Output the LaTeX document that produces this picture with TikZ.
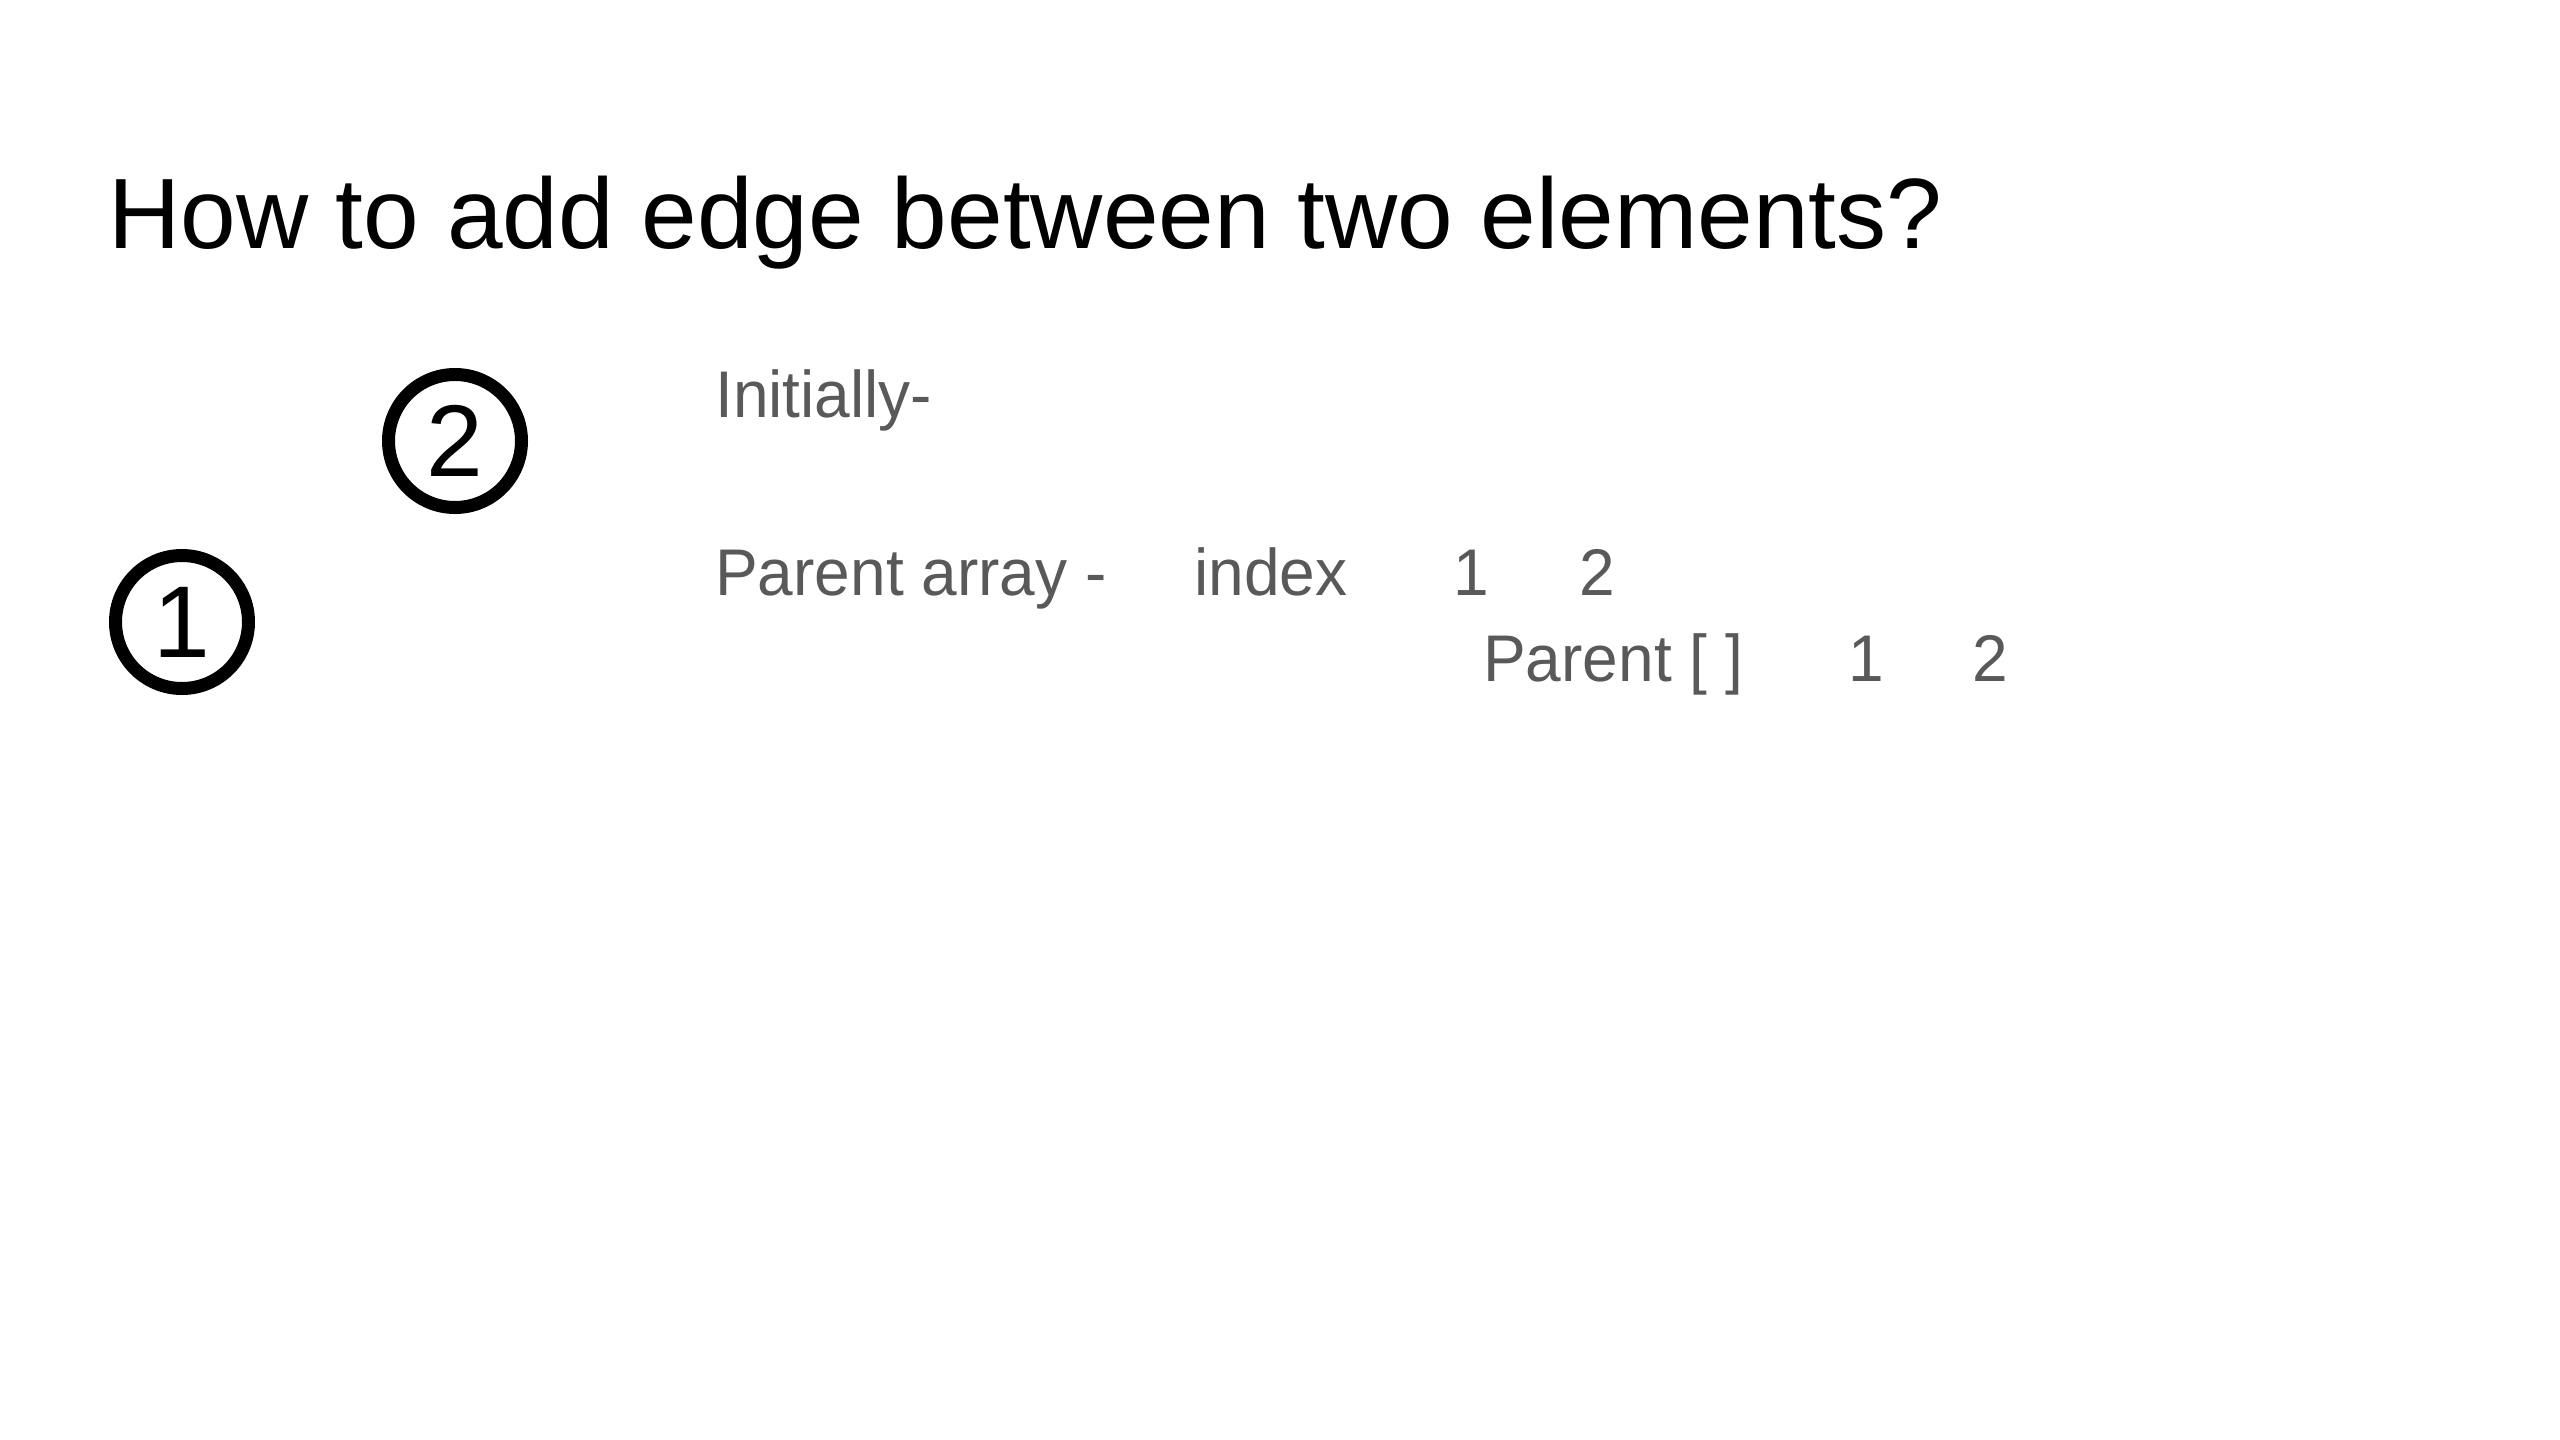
\documentclass[tikz,border=0pt]{standalone}
\usepackage{fontspec}
\setmainfont{Liberation Sans}
\newfontfamily\bodyfont[FakeStretch=0.97]{Liberation Sans}
\usepackage{xcolor}
\definecolor{slidegray}{HTML}{595959}
\tikzset{
    slide-title/.style = {anchor=base west, inner sep=0pt, text=black, font=\fontsize{100}{110}\selectfont},
    body-text/.style = {anchor=base west, inner sep=0pt, text=slidegray, font=\bodyfont\fontsize{66}{72}\selectfont},
    cell-text/.style = {body-text, anchor=base},
    vertex-circle/.style = {draw=black, line width=13pt, circle, minimum size=133pt, inner sep=0pt, font=\fontsize{102}{110}\selectfont},
}

\begin{document}
\begin{tikzpicture}[x=1pt, y=-1pt]
\useasboundingbox (0,0) rectangle (2560,1440);
\node [slide-title] (title) at (108,248) {How to add edge between two elements?};

% the two elements
\node [vertex-circle] (v2) at (455,441) {2};
\node [vertex-circle] (v1) at (182,622) {1};

% parent array
\node [body-text] (initially) at (715,417) {Initially-};
\node [body-text] (parent-array) at (715,595) {Parent array -};
\node [body-text] (index) at (1194,595) {index};
\node [cell-text] (index-1) at (1471,595) {1};
\node [cell-text] (index-2) at (1597,595) {2};
\node [body-text] (parent) at (1483,681) {Parent [ ]};
\node [cell-text] (parent-1) at (1866,681) {1};
\node [cell-text] (parent-2) at (1990,681) {2};
\end{tikzpicture}
\end{document}
